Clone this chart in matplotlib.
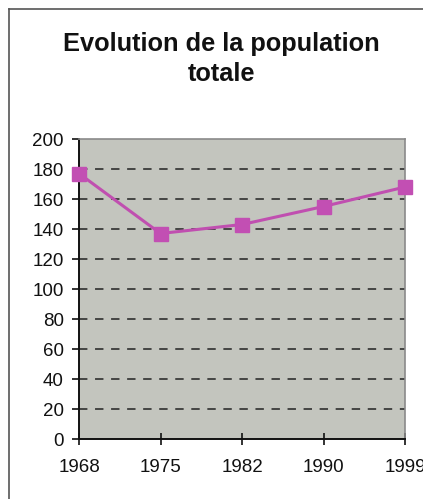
import matplotlib
matplotlib.use("Agg")
import matplotlib.pyplot as plt
from matplotlib.lines import Line2D

plt.rcParams['font.family'] = ['Liberation Sans', 'DejaVu Sans']

years = ["1968", "1975", "1982", "1990", "1999"]
population = [177, 137, 143, 155, 168]
y_ticks = [0, 20, 40, 60, 80, 100, 120, 140, 160, 180, 200]
title = "Evolution de la population\ntotale"

W, H = 423, 499
fig = plt.figure(figsize=(W / 100, H / 100), dpi=100)
fig.patch.set_facecolor("white")

# outer chart frame
fig.add_artist(Line2D([9 / W, 9 / W], [0, 1 - 9 / H], transform=fig.transFigure,
                      color="#555555", lw=1.2))
fig.add_artist(Line2D([9 / W, 1], [1 - 9 / H, 1 - 9 / H], transform=fig.transFigure,
                      color="#555555", lw=1.2))

ax = fig.add_axes([79 / W, 1 - 439 / H, (405 - 79) / W, (439 - 139) / H])
ax.set_facecolor("#c3c5be")

x = list(range(len(years)))
ax.plot(x, population, color="#c04fb0", lw=2.2, marker="s", markersize=9.5,
        markerfacecolor="#c24fb3", markeredgecolor="#c24fb3", clip_on=False, zorder=5)

ax.set_xlim(0, len(years) - 1)
ax.set_ylim(0, 200)
ax.set_xticks(x)
ax.set_xticklabels(years, fontsize=13.5)
ax.set_yticks(y_ticks)
ax.set_yticklabels([str(v) for v in y_ticks], fontsize=13.5)

for v in y_ticks[1:-1]:
    ax.axhline(v, color="#222222", lw=1.1, dashes=(5.5, 5), zorder=1)

for side in ("top", "right"):
    ax.spines[side].set_color("#8a8a8a")
    ax.spines[side].set_linewidth(1.2)
for side in ("left", "bottom"):
    ax.spines[side].set_color("#111111")
    ax.spines[side].set_linewidth(1.4)

ax.tick_params(axis="y", direction="out", length=5, width=1.2, pad=6, colors="#111111")
ax.tick_params(axis="x", direction="inout", length=9, width=1.2, pad=10, colors="#111111")

fig.text(221 / W, 1 - 59 / H, title, ha="center", va="center", fontsize=18.3,
         fontweight="bold", linespacing=1.33, color="#111111")

fig.savefig("out.png", dpi=100)
